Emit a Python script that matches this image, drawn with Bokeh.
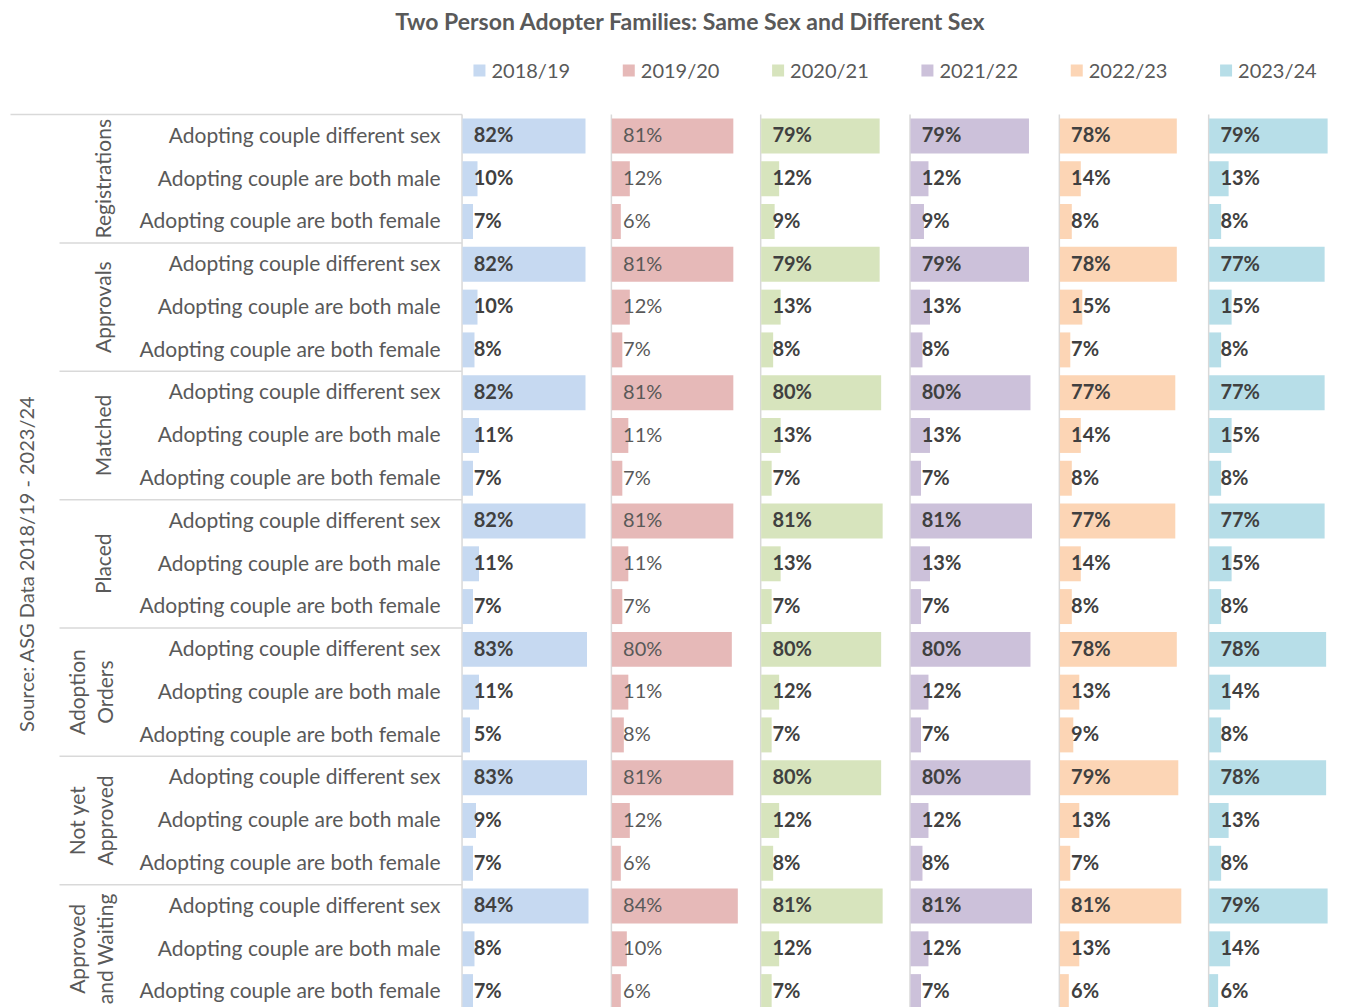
import math
from bokeh.plotting import figure
from bokeh.models import Range1d, ColumnDataSource
from bokeh.core.properties import value
from bokeh.embed import file_html
from bokeh.resources import INLINE

# ---------------- data ----------------
years = ["2018/19", "2019/20", "2020/21", "2021/22", "2022/23", "2023/24"]
groups = ["Registrations", "Approvals", "Matched", "Placed",
          "Adoption\nOrders", "Not yet\nApproved", "Approved\nand Waiting"]
subcats = ["Adopting couple different sex",
           "Adopting couple are both male",
           "Adopting couple are both female"]

v2018_19 = [82, 10, 7, 82, 10, 8, 82, 11, 7, 82, 11, 7, 83, 11, 5, 83, 9, 7, 84, 8, 7]
v2019_20 = [81, 12, 6, 81, 12, 7, 81, 11, 7, 81, 11, 7, 80, 11, 8, 81, 12, 6, 84, 10, 6]
v2020_21 = [79, 12, 9, 79, 13, 8, 80, 13, 7, 81, 13, 7, 80, 12, 7, 80, 12, 8, 81, 12, 7]
v2021_22 = [79, 12, 9, 79, 13, 8, 80, 13, 7, 81, 13, 7, 80, 12, 7, 80, 12, 8, 81, 12, 7]
v2022_23 = [78, 14, 8, 78, 15, 7, 77, 14, 8, 77, 14, 8, 78, 13, 9, 79, 13, 7, 81, 13, 6]
v2023_24 = [79, 13, 8, 77, 15, 8, 77, 15, 8, 77, 15, 8, 78, 14, 8, 78, 13, 8, 79, 14, 6]
series = [v2018_19, v2019_20, v2020_21, v2021_22, v2022_23, v2023_24]

colors = ["#C6D9F1", "#E6B9B8", "#D7E4BD", "#CCC1DA", "#FCD5B5", "#B7DEE8"]

title = "Two Person Adopter Families: Same Sex and Different Sex"
source_note = "Source: ASG Data 2018/19 - 2023/24"

# ---------------- layout ----------------
FONT = value("Lato")
GAP = 99.55         # panel spacing in value units
W, H = 1346, 1007
PX_X0, PX_PER_UNIT = 462.0, 1.5      # panel-1 zero line, px per percent
PX_Y0, PX_PER_ROW = 135.5, 42.78     # first row centre, px per row
TXT_DY = -0.04                       # small optical lift for labels
n_rows = len(groups) * len(subcats)


def ux(px):
    return (px - PX_X0) / PX_PER_UNIT


def uy(px):
    return (px - PX_Y0) / PX_PER_ROW


p = figure(width=W, height=H, output_backend="svg", toolbar_location=None,
           x_range=Range1d(ux(0), ux(W)), y_range=Range1d(uy(H), uy(0)),
           x_axis_location=None, y_axis_location=None, min_border=0,
           outline_line_color=None, tools="")
p.grid.visible = False

rows = list(range(n_rows))
rows_txt = [r + TXT_DY for r in rows]

# group separator lines
sep_y = [-0.5] + [3 * g - 0.5 for g in range(1, len(groups))]
sep_x0 = [ux(10)] + [ux(59)] * (len(groups) - 1)
p.segment(x0=sep_x0, x1=[-0.2] * len(sep_y), y0=sep_y, y1=sep_y,
          line_color="#D9D9D9", line_width=1.5)

# panel axis lines
p.segment(x0=[k * GAP - 0.3 for k in range(len(years))],
          x1=[k * GAP - 0.3 for k in range(len(years))],
          y0=[-0.5] * len(years), y1=[21.0] * len(years),
          line_color="#D9D9D9", line_width=1.5)

# bars + value labels
for k, (yr, vals, col) in enumerate(zip(years, series, colors)):
    off = k * GAP
    src = ColumnDataSource(dict(
        y=rows,
        yt=rows_txt,
        left=[off] * n_rows,
        right=[off + v for v in vals],
        lx=[off + 7.5] * n_rows,
        lab=[f"{v}%" for v in vals],
    ))
    p.hbar(y="y", left="left", right="right", height=0.817, source=src,
           fill_color=col, line_color=None)
    bold = (k != 1)
    p.text(x="lx", y="yt", text="lab", source=src, text_font=FONT,
           text_font_size="20px",
           text_font_style="bold" if bold else "normal",
           text_color="#404040" if bold else "#595959",
           text_align="left", text_baseline="middle")
    # legend
    p.scatter(x=[off + 11.3], y=[uy(70)], marker="square", size=12,
              fill_color=col, line_color=None)
    p.text(x=[off + 19.3], y=[uy(69)], text=[yr], text_font=FONT,
           text_font_size="20px", text_color="#595959",
           text_align="left", text_baseline="middle")

# row labels
p.text(x=[ux(440)] * n_rows, y=rows_txt,
       text=[subcats[i % 3] for i in rows], text_font=FONT,
       text_font_size="21px", text_color="#595959",
       text_align="right", text_baseline="middle")

# group labels (rotated)
gx = [ux(90) if "\n" in g else ux(102) for g in groups]
p.text(x=gx, y=[3 * g + 1 for g in range(len(groups))], text=groups,
       angle=math.pi / 2, text_font=FONT, text_font_size="21px",
       text_color="#595959", text_align="center", text_baseline="middle",
       text_line_height=1.15)

# source note
p.text(x=[ux(25)], y=[(n_rows - 1) / 2], text=[source_note],
       angle=math.pi / 2, text_font=FONT, text_font_size="20px",
       text_color="#595959", text_align="center", text_baseline="middle")

# title
p.text(x=[ux(690)], y=[uy(20)], text=[title], text_font=FONT,
       text_font_size="23px", text_font_style="bold", text_color="#595959",
       text_align="center", text_baseline="middle")

open("out.html", "w").write(file_html(p, INLINE))
